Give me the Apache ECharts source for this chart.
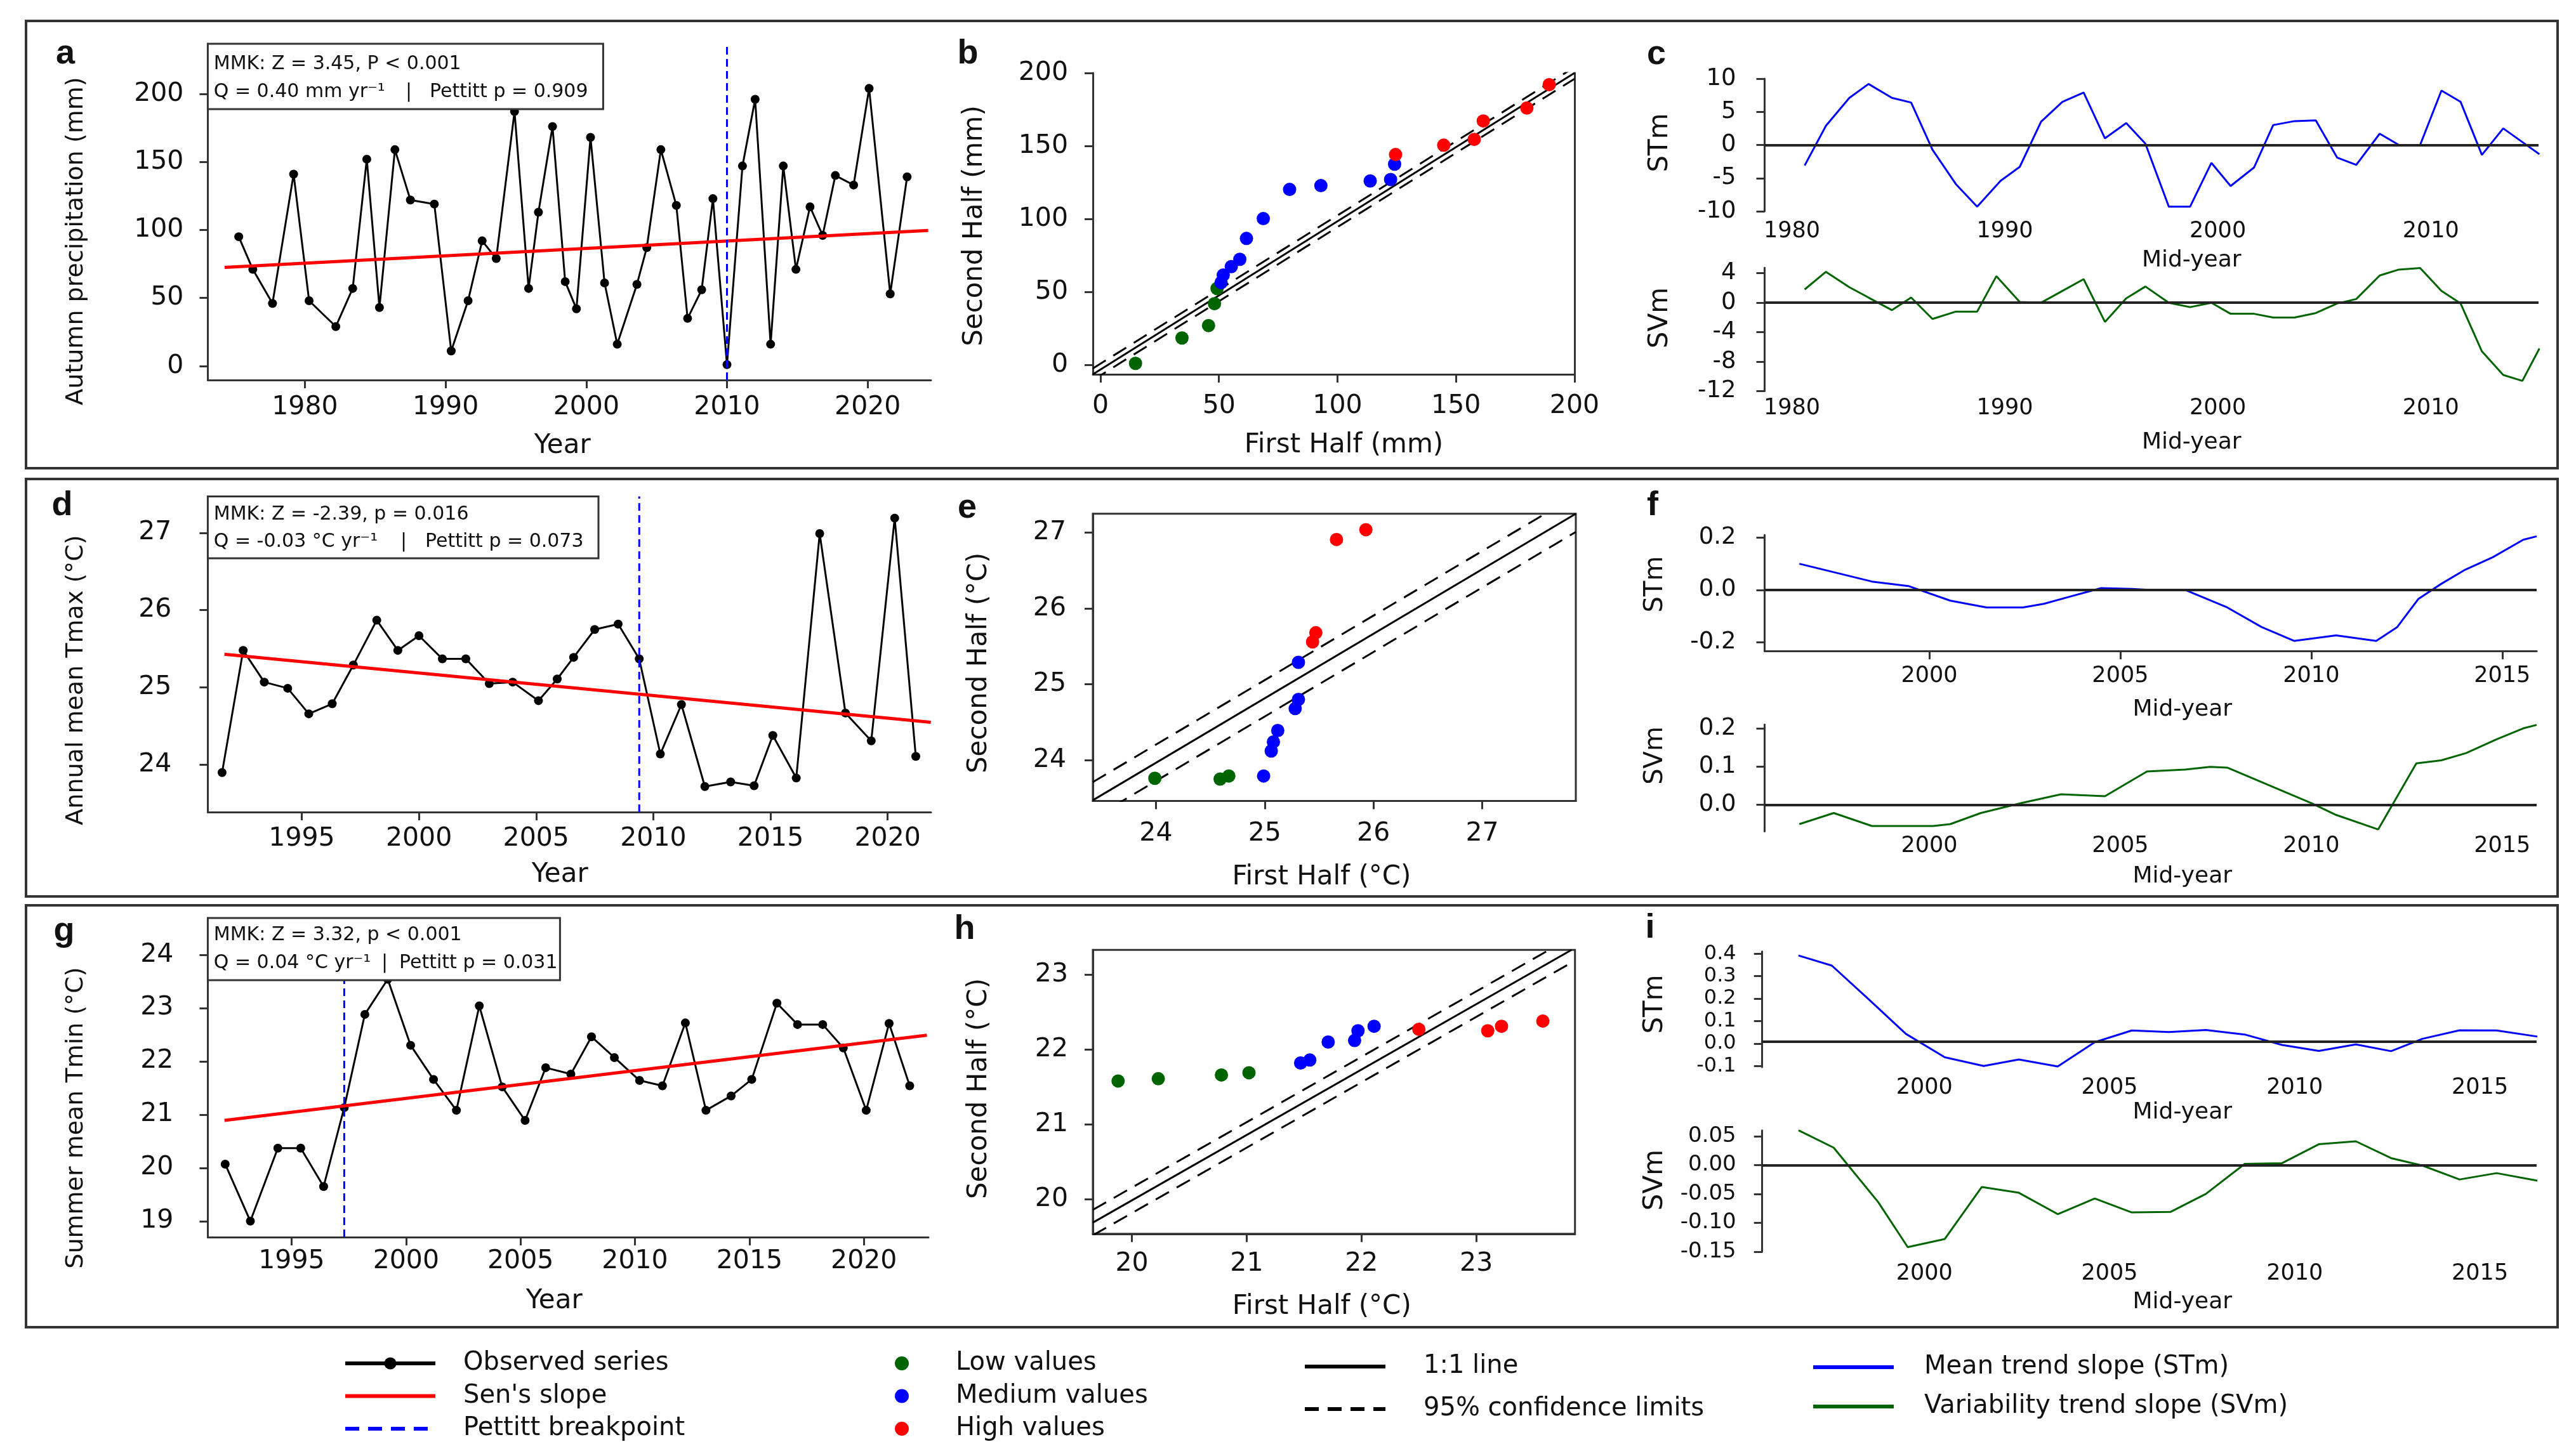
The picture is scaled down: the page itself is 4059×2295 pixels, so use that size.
<!DOCTYPE html>
<html><head><meta charset="utf-8">
<script src="https://cdn.jsdelivr.net/npm/echarts@6/dist/echarts.min.js"></script>
<style>html,body{margin:0;padding:0;background:#fff}#c{width:4059px;height:2295px}</style>
</head><body><div id="c"></div>
<script>
// ===================== DATA =====================
// (a) Autumn precipitation
const yearsA = [1975.3,1976.3,1977.7,1979.2,1980.3,1982.2,1983.4,1984.4,1985.3,1986.4,1987.5,1989.2,1990.4,1991.6,1992.6,1993.6,1994.9,1995.9,1996.6,1997.6,1998.5,1999.3,2000.3,2001.3,2002.2,2003.6,2004.3,2005.3,2006.4,2007.2,2008.2,2009.0,2010.0,2011.1,2012.0,2013.1,2014.0,2014.9,2015.9,2016.8,2017.7,2019.0,2020.1,2021.6,2022.8];
const precipA = [95,71,46,141,48,29,57,152,43,159,122,119,11,48,92,79,187,57,113,176,62,42,168,61,16,60,87,159,118,35,56,123,1,147,196,16,147,71,117,96,140,133,204,53,139];
const senA = [[1974.3,72.4],[2024.3,99.6]];
const pettittA = 2010.0;
const statsA = ['MMK: Z = 3.45, P < 0.001','Q = 0.40 mm yr\u207B\u00B9','Pettitt p = 0.909'];
const rangeAx = [1973.1,2024.5], rangeAy = [-10.3,236.8];
const ticksAx = [1980,1990,2000,2010,2020], ticksAy = [0,50,100,150,200];

// (b) ITA precipitation
const lowB  = [[14.8,1.0],[34.4,18.4],[45.6,26.9],[48.1,41.9],[49.2,52.3]];
const medB  = [[50.9,56.3],[51.8,61.5],[55.2,67.3],[58.8,72.3],[61.6,86.6],[68.7,100.2],[79.8,120.2],[93.0,122.8],[113.8,126.0],[122.4,127.0],[124.1,137.5]];
const highB = [[124.5,144.1],[144.8,150.5],[157.7,154.5],[161.5,167.1],[179.9,176.0],[189.3,192.0]];
const oneB = [[-3.2,-6.5],[200,200]];
const ciB = 4;
const rangeBx = [-3.2,200], rangeBy = [-6.5,200];
const ticksB = [0,50,100,150,200];

// (c) moving trend slopes precipitation
const midC  = [1980.6,1981.6,1982.7,1983.6,1984.7,1985.6,1986.6,1987.7,1988.7,1989.8,1990.7,1991.7,1992.7,1993.7,1994.7,1995.7,1996.6,1997.7,1998.7,1999.7,2000.6,2001.7,2002.6,2003.6,2004.6,2005.6,2006.5,2007.6,2008.5,2009.5,2010.5,2011.4,2012.4,2013.4,2015.1];
const stmC  = [-3.1,2.9,7.1,9.2,7.1,6.4,-0.7,-5.9,-9.3,-5.4,-3.3,3.5,6.5,7.9,1.0,3.3,0.2,-9.3,-9.3,-2.7,-6.2,-3.4,3.0,3.6,3.7,-1.9,-3.0,1.7,0,0,8.2,6.5,-1.5,2.5,-1.4];
const midCv = [1980.6,1981.6,1982.7,1983.6,1984.7,1985.6,1986.6,1987.7,1988.7,1989.6,1990.7,1991.7,1992.7,1993.7,1994.7,1995.7,1996.6,1997.7,1998.7,1999.7,2000.6,2001.7,2002.6,2003.6,2004.6,2005.6,2006.5,2007.6,2008.5,2009.5,2010.5,2011.4,2012.4,2013.4,2014.3,2015.1];
const svmC  = [1.8,4.2,2.1,0.7,-1.0,0.7,-2.2,-1.2,-1.2,3.6,0.1,0.0,1.6,3.2,-2.6,0.6,2.2,0.0,-0.6,0.0,-1.5,-1.5,-2.0,-2.0,-1.4,-0.1,0.5,3.7,4.5,4.7,1.6,-0.1,-6.6,-9.8,-10.6,-6.2];
const rangeCx = [1978.72,2015.06], rangeC1y = [-10,10], rangeC2y = [-12,4.75];
const ticksCx = [1980,1990,2000,2010], ticksC1y = [-10,-5,0,5,10], ticksC2y = [-12,-8,-4,0,4];
const zeroC = 0;

// (d) Annual mean Tmax
const yearsD = [1991.6,1992.5,1993.4,1994.4,1995.3,1996.3,1997.2,1998.2,1999.1,2000.0,2001.0,2002.0,2003.0,2004.0,2005.1,2005.9,2006.6,2007.5,2008.5,2009.4,2010.3,2011.2,2012.2,2013.3,2014.3,2015.1,2016.1,2017.1,2018.2,2019.3,2020.3,2021.2];
const tmaxD  = [23.90,25.48,25.07,24.99,24.66,24.79,25.29,25.87,25.48,25.67,25.37,25.37,25.05,25.07,24.83,25.11,25.39,25.75,25.82,25.37,24.14,24.78,23.72,23.78,23.73,24.38,23.83,26.99,24.67,24.31,27.19,24.11];
const senD = [[1991.7,25.43],[2021.84,24.55]];
const pettittD = 2009.4;
const statsD = ['MMK: Z = -2.39, p = 0.016','Q = -0.03 \u00B0C yr\u207B\u00B9','Pettitt p = 0.073'];
const rangeDx = [1990.99,2021.85], rangeDy = [23.39,27.47];
const ticksDx = [1995,2000,2005,2010,2015,2020], ticksDy = [24,25,26,27];

// (e) ITA Tmax
const lowE  = [[23.99,23.76],[24.59,23.75],[24.67,23.79]];
const medE  = [[24.99,23.79],[25.06,24.12],[25.08,24.24],[25.12,24.39],[25.28,24.68],[25.31,24.80],[25.31,25.29]];
const highE = [[25.44,25.56],[25.47,25.68],[25.66,26.91],[25.93,27.04]];
const oneE = [[23.42,23.47],[27.86,27.25]];
const ciE = 0.24;
const rangeEx = [23.42,27.86], rangeEy = [23.46,27.25];
const ticksE = [24,25,26,27];

// (f) moving trend slopes Tmax
const midF  = [1996.6,1997.55,1998.5,1999.45,2000.55,2001.5,2002.45,2003.0,2003.7,2004.5,2005.3,2005.75,2006.7,2007.8,2008.7,2009.55,2010.65,2011.7,2012.25,2012.8,2013.4,2014.0,2014.75,2015.55,2015.9];
const stmF  = [0.100,0.066,0.032,0.015,-0.041,-0.067,-0.067,-0.053,-0.025,0.007,0.004,0,0,-0.067,-0.142,-0.195,-0.174,-0.195,-0.142,-0.035,0.023,0.075,0.125,0.192,0.205];
const midFv = [1996.6,1997.5,1998.5,2000.1,2000.55,2001.35,2002.45,2003.45,2004.6,2005.7,2006.7,2007.35,2007.8,2010.0,2010.65,2011.75,2012.75,2013.4,2014.05,2014.85,2015.55,2015.9];
const svmF  = [-0.051,-0.022,-0.056,-0.056,-0.051,-0.022,0.005,0.027,0.022,0.087,0.092,0.099,0.097,0.004,-0.027,-0.065,0.108,0.116,0.135,0.171,0.200,0.209];
const rangeFx = [1995.69,2015.9], rangeF1y = [-0.234,0.21], rangeF2y = [-0.07,0.21];
const ticksFx = [2000,2005,2010,2015], ticksF1y = [-0.2,0,0.2], ticksF2y = [0,0.1,0.2];
const zeroF = 0;

// (g) Summer mean Tmin
const yearsG = [1992.1,1993.2,1994.4,1995.4,1996.4,1997.3,1998.2,1999.2,2000.2,2001.2,2002.2,2003.2,2004.2,2005.2,2006.1,2007.2,2008.1,2009.1,2010.2,2011.2,2012.2,2013.1,2014.2,2015.1,2016.2,2017.1,2018.2,2019.1,2020.1,2021.1,2022.0];
const tminG  = [20.07,19.00,20.37,20.37,19.65,21.13,22.88,23.54,22.30,21.66,21.08,23.04,21.52,20.89,21.88,21.76,22.46,22.07,21.64,21.54,22.72,21.08,21.35,21.66,23.09,22.69,22.69,22.25,21.08,22.71,21.54];
const senG = [[1992.07,20.89],[2022.75,22.49]];
const pettittG = 1997.3;
const statsG = ['MMK: Z = 3.32, p < 0.001','Q = 0.04 \u00B0C yr\u207B\u00B9','Pettitt p = 0.031'];
const rangeGx = [1991.34,2022.82], rangeGy = [18.7,24.69];
const ticksGx = [1995,2000,2005,2010,2015,2020], ticksGy = [19,20,21,22,23,24];

// (h) ITA Tmin
const lowH  = [[19.88,21.58],[20.23,21.61],[20.78,21.66],[21.02,21.69]];
const medH  = [[21.47,21.82],[21.55,21.86],[21.71,22.10],[21.94,22.12],[21.97,22.25],[22.11,22.31]];
const highH = [[22.50,22.27],[23.10,22.25],[23.22,22.31],[23.58,22.38]];
const oneH = [[19.66,19.69],[23.83,23.33]];
const ciH = 0.17;
const rangeHx = [19.66,23.86], rangeHy = [19.54,23.33];
const ticksH = [20,21,22,23];

// (i) moving trend slopes Tmin
const midI  = [1996.6,1997.5,1998.5,1999.5,2000.55,2001.6,2002.55,2003.6,2004.6,2005.6,2006.6,2007.6,2008.65,2009.65,2010.65,2011.65,2012.6,2013.45,2014.45,2015.45,2016.55];
const stmI  = [0.392,0.347,0.196,0.043,-0.061,-0.100,-0.071,-0.102,0.006,0.058,0.051,0.060,0.040,-0.006,-0.033,-0.004,-0.034,0.021,0.059,0.058,0.031];
const midIv = [1996.6,1997.55,1998.75,1999.55,2000.55,2001.55,2002.55,2003.6,2004.6,2005.6,2006.65,2007.6,2008.65,2009.65,2010.65,2011.65,2012.6,2013.45,2014.45,2015.45,2016.55];
const svmI  = [0.060,0.030,-0.064,-0.142,-0.128,-0.038,-0.048,-0.085,-0.058,-0.082,-0.081,-0.050,0.002,0.003,0.036,0.041,0.012,-0.001,-0.025,-0.014,-0.027];
const rangeIx = [1995.62,2016.53], rangeI1y = [-0.105,0.41], rangeI2y = [-0.15,0.06];
const ticksIx = [2000,2005,2010,2015], ticksI1y = [-0.1,0,0.1,0.2,0.3,0.4], ticksI2y = [-0.15,-0.1,-0.05,0,0.05];
const zeroI1 = 0.015, zeroI2 = 0;

// ===================== STYLE / LAYOUT =====================
const FONT = 'DejaVu Sans';
const AX = '#333';
const TXT = '#111';
const BLUE = '#0000ff', RED = '#ff0000', GREEN = '#006400';
const zip = (xs, ys) => xs.map((x, i) => [x, ys[i]]);

const grids = [], xAxes = [], yAxes = [], series = [];
function panel(box, xr, yr, xt, yt, o) {
  const gi = grids.length;
  grids.push({left: box[0], top: box[1], width: box[2], height: box[3], show: !!o.border,
    borderColor: AX, borderWidth: 3, backgroundColor: 'transparent'});
  const xl = o.xline !== false;
  xAxes.push({type: 'value', gridIndex: gi, min: xr[0], max: xr[1], position: 'bottom',
    axisLine: {show: xl, onZero: false, lineStyle: {color: AX, width: 3}},
    axisTick: {show: xl, length: 13, customValues: xt, lineStyle: {color: AX, width: 3}},
    axisLabel: {customValues: xt, margin: o.xm, fontSize: o.fs, fontFamily: FONT, color: TXT, formatter: o.xf || (v => String(v))},
    splitLine: {show: false},
    name: o.xname, nameLocation: 'middle', nameGap: o.gap,
    nameTextStyle: {fontSize: o.nfs, fontFamily: FONT, color: TXT,
      padding: o.shift > 0 ? [0, 0, 0, 2 * o.shift] : [0, -2 * (o.shift || 0), 0, 0]}
  });
  yAxes.push({type: 'value', gridIndex: gi, min: yr[0], max: yr[1], position: 'left',
    axisLine: {show: true, onZero: false, lineStyle: {color: AX, width: 3}},
    axisTick: {show: true, length: 13, customValues: yt, lineStyle: {color: AX, width: 3}},
    axisLabel: {customValues: yt, margin: o.ym, fontSize: o.yfs || o.fs, fontFamily: FONT, color: TXT, formatter: o.yf || (v => String(v))},
    splitLine: {show: false}
  });
  const yi = yAxes.length - 1;
  if (o.rightLine) {
    yAxes.push({type: 'value', gridIndex: gi, min: yr[0], max: yr[1], position: 'right',
      axisLine: {show: true, onZero: false, lineStyle: {color: AX, width: 3}},
      axisTick: {show: false}, axisLabel: {show: false}, splitLine: {show: false}});
  }
  return {xAxisIndex: xAxes.length - 1, yAxisIndex: yi};
}
const base = {silent: true, animation: false, emphasis: {disabled: true}};
function line(ax, name, data, color, width, type, z, extra) {
  series.push(Object.assign({}, base, ax, {type: 'line', name, data, symbol: 'none', showSymbol: false,
    lineStyle: {color, width, type: type || 'solid'}, itemStyle: {color}, z: z || 2}, extra || {}));
}
function dots(ax, name, data, color) {
  series.push(Object.assign({}, base, ax, {type: 'scatter', name, data, symbol: 'circle', symbolSize: 21,
    itemStyle: {color, opacity: 1}, z: 5}));
}
function zeroMark(v) {
  return {markLine: {silent: true, symbol: ['none', 'none'], label: {show: false}, animation: false,
    lineStyle: {color: '#222', width: 4, type: 'solid'}, data: [{yAxis: v}]}};
}
function trendPanel(ax, xs, ys, sen, pett, yr) {
  series.push(Object.assign({}, base, ax, {type: 'line', name: 'Observed series', data: zip(xs, ys),
    symbol: 'circle', symbolSize: 14, showSymbol: true, lineStyle: {color: '#000', width: 3},
    itemStyle: {color: '#000'}, z: 2}));
  line(ax, "Sen's slope", sen, RED, 5, 'solid', 3);
  line(ax, 'Pettitt breakpoint', [[pett, yr[0]], [pett, yr[1]]], BLUE, 3, [12, 7], 4);
}
function itaPanel(ax, one, ci, low, med, high) {
  line(ax, '1:1 line', one, '#000', 3, 'solid', 2);
  line(ax, '95% confidence limits', one.map(p => [p[0], p[1] + ci]), '#000', 3, [24, 14], 2);
  line(ax, '95% confidence limits', one.map(p => [p[0], p[1] - ci]), '#000', 3, [24, 14], 2);
  dots(ax, 'Low values', low, GREEN);
  dots(ax, 'Medium values', med, BLUE);
  dots(ax, 'High values', high, RED);
}
const f1 = v => v.toFixed(1), f2 = v => v.toFixed(2);

// ---- Row 1
const axA = panel([327.4, 69, 1139.6, 530], rangeAx, rangeAy, ticksAx, ticksAy,
  {xm: 23, ym: 38, fs: 41, xname: 'Year', gap: 83, nfs: 42, shift: -11});
trendPanel(axA, yearsA, precipA, senA, pettittA, rangeAy);
const axB = panel([1722, 115, 759, 475], rangeBx, rangeBy, ticksB, ticksB,
  {xm: 30, ym: 39, fs: 41, xname: 'First Half (mm)', gap: 91, nfs: 42, shift: 16, rightLine: true});
itaPanel(axB, oneB, ciB, lowB, medB, highB);
const axC1 = panel([2780.5, 124, 1219.5, 209], rangeCx, rangeC1y, ticksCx, ticksC1y,
  {xline: false, xm: 14, ym: 45, fs: 35, yfs: 37, xname: 'Mid-year', gap: 60, nfs: 36, shift: 63});
line(axC1, 'Mean trend slope (STm)', zip(midC, stmC), BLUE, 3, 'solid', 3, zeroMark(zeroC));
const axC2 = panel([2780.5, 422, 1219.5, 194.6], rangeCx, rangeC2y, ticksCx, ticksC2y,
  {xline: false, xm: 10, ym: 45, fs: 35, yfs: 37, xname: 'Mid-year', gap: 63, nfs: 36, shift: 63});
line(axC2, 'Variability trend slope (SVm)', zip(midCv, svmC), GREEN, 3, 'solid', 3, zeroMark(zeroC));

// ---- Row 2
const axD = panel([327.4, 782.5, 1139.6, 497.5], rangeDx, rangeDy, ticksDx, ticksDy,
  {xm: 22, ym: 57, fs: 41, xname: 'Year', gap: 78, nfs: 42, shift: -15});
trendPanel(axD, yearsD, tmaxD, senD, pettittD, rangeDy);
const axE = panel([1722, 809.8, 761, 452.8], rangeEx, rangeEy, ticksE, ticksE,
  {xm: 31, ym: 42, fs: 41, xname: 'First Half (\u00B0C)', gap: 99, nfs: 42, shift: -20, border: true});
itaPanel(axE, oneE, ciE, lowE, medE, highE);
const axF1 = panel([2780.5, 843.3, 1216.5, 183], rangeFx, rangeF1y, ticksFx, ticksF1y,
  {xm: 22, ym: 45, fs: 35, yfs: 37, xname: 'Mid-year', gap: 74, nfs: 36, shift: 50, yf: f1});
line(axF1, 'Mean trend slope (STm)', zip(midF, stmF), BLUE, 3, 'solid', 3, zeroMark(zeroF));
const axF2 = panel([2780.5, 1142, 1216.5, 168.4], rangeFx, rangeF2y, ticksFx, ticksF2y,
  {xline: false, xm: 6, ym: 45, fs: 35, yfs: 37, xname: 'Mid-year', gap: 53, nfs: 36, shift: 50, yf: f1});
line(axF2, 'Variability trend slope (SVm)', zip(midFv, svmF), GREEN, 3, 'solid', 3, zeroMark(zeroF));

// ---- Row 3
const axG = panel([327.4, 1446.9, 1135.6, 503.1], rangeGx, rangeGy, ticksGx, ticksGy,
  {xm: 18, ym: 54, fs: 41, xname: 'Year', gap: 80, nfs: 42, shift: -22});
trendPanel(axG, yearsG, tminG, senG, pettittG, rangeGy);
const axH = panel([1722, 1497.2, 759.7, 447.6], rangeHx, rangeHy, ticksH, ticksH,
  {xm: 27, ym: 39, fs: 41, xname: 'First Half (\u00B0C)', gap: 94, nfs: 42, shift: -19, border: true});
itaPanel(axH, oneH, ciH, lowH, medH, highH);
const axI1 = panel([2776.7, 1499.7, 1220.2, 182.3], rangeIx, rangeI1y, ticksIx, ticksI1y,
  {xline: false, xm: 15, ym: 41, fs: 35, yfs: 32, xname: 'Mid-year', gap: 54, nfs: 36, shift: 52, yf: f1});
line(axI1, 'Mean trend slope (STm)', zip(midI, stmI), BLUE, 3, 'solid', 3, zeroMark(zeroI1));
const axI2 = panel([2776.7, 1781.7, 1220.2, 191.3], rangeIx, rangeI2y, ticksIx, ticksI2y,
  {xline: false, xm: 17, ym: 41, fs: 35, yfs: 34, xname: 'Mid-year', gap: 62, nfs: 36, shift: 52, yf: f2});
line(axI2, 'Variability trend slope (SVm)', zip(midIv, svmI), GREEN, 3, 'solid', 3, zeroMark(zeroI2));

// ===================== GRAPHIC (frames, titles, stats boxes) =====================
const G = [];
function rect(x, y, w, h, fill, lw, z) {
  G.push({type: 'rect', z: z || 0, silent: true, shape: {x, y, width: w, height: h},
    style: {fill: fill || 'none', stroke: AX, lineWidth: lw || 4}});
}
function txt(x, y, s, size, o) {
  o = o || {};
  G.push({type: 'text', x, y, z: o.z || 10, silent: true, rotation: o.rot || 0,
    style: {text: s, fontSize: size, fontFamily: o.family || FONT, fontWeight: o.weight || 'normal', fill: TXT,
      align: o.align || 'left', textAlign: o.align || 'left', verticalAlign: 'middle', textVerticalAlign: 'middle'}});
}
// row frames
rect(41, 33, 3989, 705, 'none', 4, 0);
rect(41, 755, 3989, 658, 'none', 4, 0);
rect(41, 1427, 3989, 665, 'none', 4, 0);
// panel letters
const letters = [['a', 103, 85], ['b', 1525, 85], ['c', 2610, 86], ['d', 98, 797], ['e', 1524, 801], ['f', 2604, 797],
  ['g', 101, 1468], ['h', 1520, 1465], ['i', 2600, 1463]];
letters.forEach(l => txt(l[1], l[2], l[0], 54, {weight: 'bold', family: 'Liberation Sans', align: 'center'}));
// y titles
const R90 = Math.PI / 2;
txt(120, 380, 'Autumn precipitation (mm)', 38, {rot: R90, align: 'center'});
txt(120, 1072, 'Annual mean Tmax (\u00B0C)', 38, {rot: R90, align: 'center'});
txt(120, 1762, 'Summer mean Tmin (\u00B0C)', 38, {rot: R90, align: 'center'});
txt(1536, 356, 'Second Half (mm)', 42, {rot: R90, align: 'center'});
txt(1543, 1045, 'Second Half (\u00B0C)', 42, {rot: R90, align: 'center'});
txt(1543, 1716, 'Second Half (\u00B0C)', 42, {rot: R90, align: 'center'});
txt(2616, 225, 'STm', 42, {rot: R90, align: 'center'});
txt(2616, 501, 'SVm', 42, {rot: R90, align: 'center'});
txt(2609, 921, 'STm', 40, {rot: R90, align: 'center'});
txt(2609, 1191, 'SVm', 40, {rot: R90, align: 'center'});
txt(2608, 1583, 'STm', 42, {rot: R90, align: 'center'});
txt(2608, 1860, 'SVm', 42, {rot: R90, align: 'center'});
// stats boxes
function statBox(b, stats, l1, l2, barX, pX) {
  rect(b[0], b[1], b[2], b[3], '#fff', 3, 50);
  txt(336.8, l1, stats[0], 30, {z: 51});
  txt(336.8, l2, stats[1], 30, {z: 51});
  txt(barX, l2, '|', 30, {z: 51, align: 'center'});
  txt(pX, l2, stats[2], 30, {z: 51});
}
statBox([327.4, 69, 623, 103], statsA, 101, 145, 644, 677);
statBox([327.4, 782.5, 615.6, 97.5], statsD, 811, 854, 636, 670);
statBox([327.4, 1447, 555, 98], statsG, 1474, 1518, 606, 629);

// ===================== LEGEND =====================
const legText = pad => ({fontSize: 40, lineHeight: 40, fontFamily: FONT, color: TXT, padding: [0, 0, 0, pad]});
const noSym = {opacity: 0};
const legends = [
  {orient: 'vertical', left: 536, top: 2124, itemWidth: 142, itemHeight: 24, itemGap: 11.5, selectedMode: false,
    textStyle: legText(39), lineStyle: {width: 6},
    data: [{name: 'Observed series'}, {name: "Sen's slope", itemStyle: noSym},
      {name: 'Pettitt breakpoint', itemStyle: noSym, lineStyle: {type: [22, 14], width: 6}}]},
  {orient: 'vertical', left: 1405, top: 2124, itemWidth: 22, itemHeight: 22, itemGap: 11.5, selectedMode: false,
    textStyle: legText(69), data: ['Low values', 'Medium values', 'High values']},
  {orient: 'vertical', left: 2048, top: 2129, itemWidth: 127, itemHeight: 24, itemGap: 27, selectedMode: false,
    textStyle: legText(55), lineStyle: {width: 6},
    data: [{name: '1:1 line', itemStyle: noSym}, {name: '95% confidence limits', itemStyle: noSym, lineStyle: {type: [22, 14], width: 6}}]},
  {orient: 'vertical', left: 2849, top: 2130, itemWidth: 127, itemHeight: 24, itemGap: 22, selectedMode: false,
    textStyle: legText(43), lineStyle: {width: 6},
    data: [{name: 'Mean trend slope (STm)', itemStyle: noSym}, {name: 'Variability trend slope (SVm)', itemStyle: noSym}]}
];

const chart = echarts.init(document.getElementById('c'), null, {renderer: 'canvas', width: 4059, height: 2295});
chart.setOption({
  animation: false,
  backgroundColor: '#ffffff',
  textStyle: {fontFamily: FONT},
  tooltip: {show: false},
  grid: grids, xAxis: xAxes, yAxis: yAxes, series: series,
  legend: legends,
  graphic: {elements: G}
});
</script></body></html>
